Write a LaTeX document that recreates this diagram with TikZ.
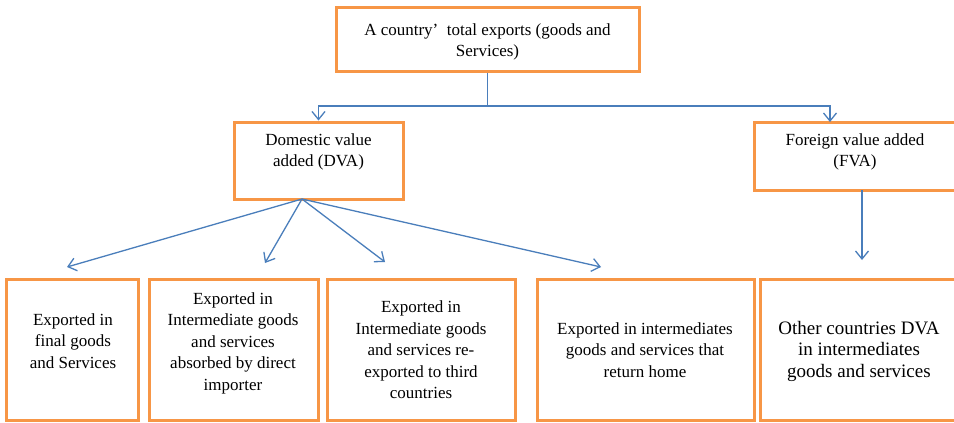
\documentclass[tikz,border=0pt]{standalone}
\usepackage{fontspec}
\setmainfont{Liberation Serif}
\usetikzlibrary{arrows.meta}
\definecolor{boxorange}{HTML}{F79646}
\definecolor{linkblue}{HTML}{4A7EBB}
\begin{document}
\begin{tikzpicture}[x=1bp,y=-1bp,
  box/.style={draw=boxorange, line width=3bp, inner sep=0pt},
  txt/.style={align=center, inner sep=0pt, font=\fontsize{17bp}{21.5bp}\selectfont},
  bigtxt/.style={align=center, inner sep=0pt, font=\fontsize{19bp}{21.5bp}\selectfont},
  conn/.style={draw=linkblue, line width=1.3bp, -{Straight Barb[length=8bp,width=13bp]}},
  link/.style={draw=linkblue, line width=1.3bp}
]
\useasboundingbox[fill=white] (0,0) rectangle (954,422);

% boxes
\node[box, minimum width=303bp, minimum height=64bp] (top) at (487.5,39) {};
\node[box, minimum width=169bp, minimum height=77bp] (dva) at (318.5,160.5) {};
\node[box, minimum width=203bp, minimum height=68bp] (fva) at (855.5,156) {};
\node[box, minimum width=131bp, minimum height=141bp] (b1) at (72.5,349.5) {};
\node[box, minimum width=169bp, minimum height=141bp] (b2) at (233.5,349.5) {};
\node[box, minimum width=188bp, minimum height=141bp] (b3) at (421,349.5) {};
\node[box, minimum width=217bp, minimum height=141bp] (b4) at (645.5,349.5) {};
\node[box, minimum width=197bp, minimum height=141bp] (b5) at (858.5,349.5) {};

% texts
\node[txt] (topT) at (487.5,42) {A country’\ \ total exports (goods and\\Services)};
\node[txt] (dvaT) at (318.5,152) {Domestic value\\added (DVA)};
\node[txt] (fvaT) at (855,152) {Foreign value added\\(FVA)};
\node[txt] (b1T) at (73,341) {Exported in\\final goods\\and Services};
\node[txt] (b2T) at (233,343) {Exported in\\Intermediate goods\\and services\\absorbed by direct\\importer};
\node[txt] (b3T) at (421,350) {Exported in\\Intermediate goods\\and services re-\\exported to third\\countries};
\node[txt] (b4T) at (645,350) {Exported in intermediates\\goods and services that\\return home};
\node[bigtxt] (b5T) at (859,351) {Other countries DVA\\in intermediates\\goods and services};

% coordinates
\coordinate (hy) at (0,106);
\coordinate (fvaIn) at (830,122);
\coordinate (dvaOut) at (302,199);
\coordinate (t1) at (67,267);
\coordinate (t2) at (265,263);
\coordinate (t3) at (385,262);
\coordinate (t4) at (601,267);
\coordinate (fvaOut) at (862,190);
\coordinate (t5) at (862,260);

% connectors
\draw[link] (top.south) -- (top.south |- hy);
\draw[conn] (top.south |- hy) -| (dva.north);
\draw[conn] (top.south |- hy) -| (fvaIn);
\draw[conn] (dvaOut) -- (t1);
\draw[conn] (dvaOut) -- (t2);
\draw[conn] (dvaOut) -- (t3);
\draw[conn] (dvaOut) -- (t4);
\draw[conn] (fvaOut) -- (t5);
\end{tikzpicture}
\end{document}
